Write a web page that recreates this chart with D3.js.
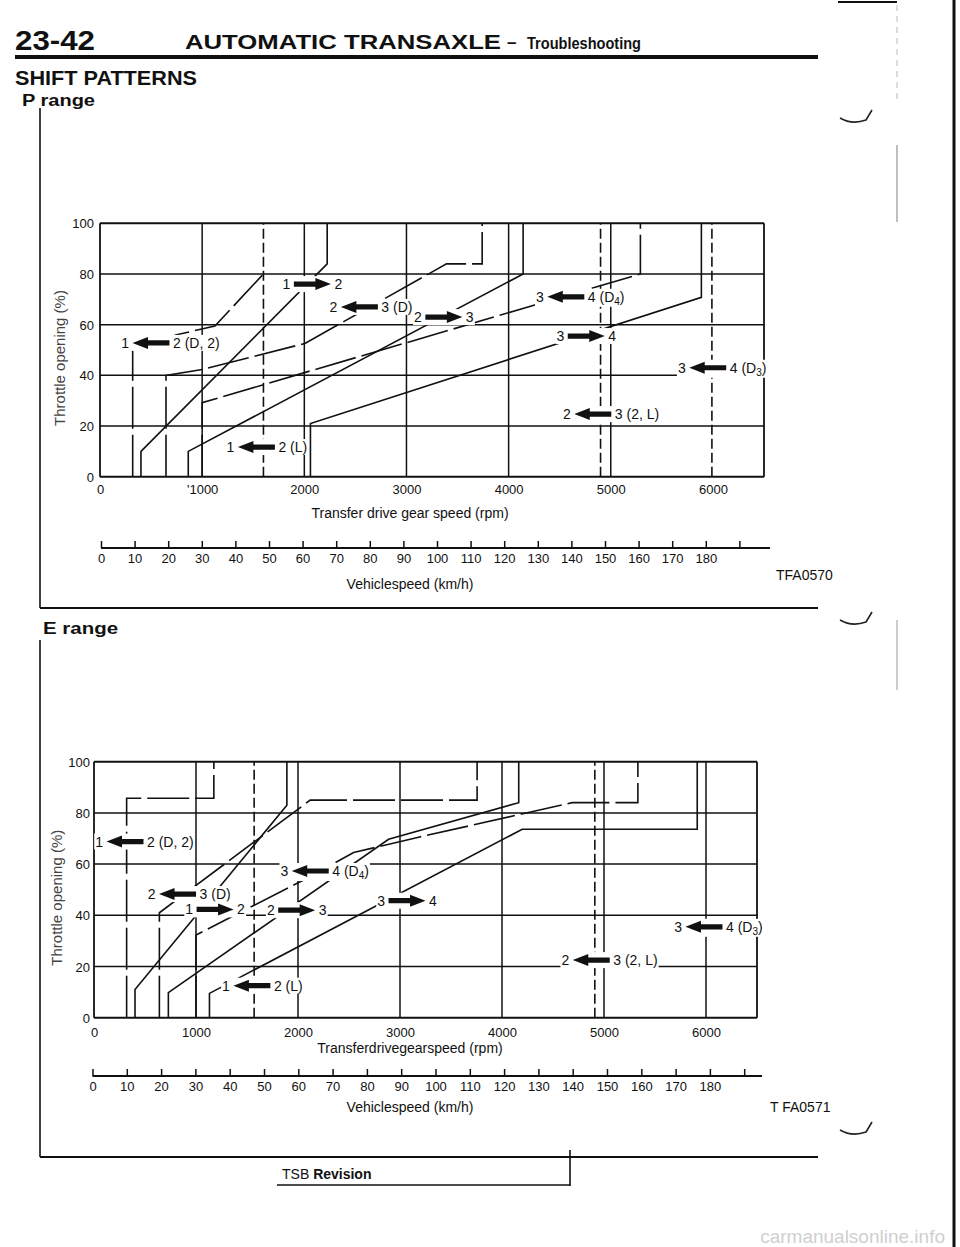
<!DOCTYPE html>
<html><head><meta charset="utf-8">
<script src="https://cdn.jsdelivr.net/npm/d3@7/dist/d3.min.js"></script>
<style>
body{margin:0;background:#fff}
svg{display:block}
text{font-family:"Liberation Sans Narrow","Liberation Sans",Arial,sans-serif;fill:#111}
</style></head><body>
<svg id="page" width="960" height="1247"></svg>
<script>
// ---------------- DATA ----------------
const rpmTicks = [0, 1000, 2000, 3000, 4000, 5000, 6000];
const rpmTickLabelsP = ["0", "'1000", "2000", "3000", "4000", "5000", "6000"];
const rpmTickLabelsE = ["0", "1000", "2000", "3000", "4000", "5000", "6000"];
const throttleTicks = [0, 20, 40, 60, 80, 100];
const throttleTickLabels = ["0", "20", "40", "60", "80", "100"];
const speedTicks = [0, 10, 20, 30, 40, 50, 60, 70, 80, 90, 100, 110, 120, 130, 140, 150, 160, 170, 180, 190];
const speedTickLabels = ["0", "10", "20", "30", "40", "50", "60", "70", "80", "90", "100", "110", "120", "130", "140", "150", "160", "170", "180", ""];
const gridRpmP = [1000, 2000, 3000, 4000, 5000];
const gridRpmE = [1000, 2000, 3000, 4000, 5000, 6000];

// P range shift lines: [transfer drive gear rpm, throttle %]
const pUp12 = [[401, 0], [401, 10], [2224, 84], [2224, 100]];
const pDown12D2 = [[320, 0], [320, 50], [750, 56], [1125, 59.5], [1600, 80]];
const pDown12L = [[1600, 0], [1600, 100]];
const pUp23 = [[864, 0], [864, 10], [4142, 80], [4142, 100]];
const pDown23D = [[646, 0], [646, 40], [1011, 42.4], [2006, 52.6], [3392, 84], [3741, 84], [3741, 100]];
const pDown23L = [[4900, 0], [4900, 100]];
const pUp34 = [[2060, 0], [2060, 21], [5887, 70.8], [5887, 100]];
const pDown34D4 = [[1000, 0], [1000, 29.2], [5290, 80], [5290, 100]];
const pDown34D3 = [[5990, 0], [5990, 100]];

// E range shift lines
const eUp12 = [[402, 0], [402, 11], [1891, 83], [1891, 100]];
const eDown12D2 = [[320, 0], [320, 85.7], [1175, 85.7], [1175, 100]];
const eDown12L = [[1570, 0], [1570, 100]];
const eUp23 = [[729, 0], [729, 9.8], [2888, 69.7], [4164, 84], [4164, 100]];
const eDown23D = [[641, 0], [641, 41], [2120, 85], [3756, 85], [3756, 100]];
const eDown23L = [[4910, 0], [4910, 100]];
const eUp34 = [[1132, 0], [1132, 9.5], [4198, 73.6], [5914, 73.6], [5914, 100]];
const eDown34D4 = [[1000, 0], [1000, 32.3], [2054, 53.8], [2545, 64.5], [3183, 70.5], [4688, 84], [5332, 84], [5332, 100]];

// shift labels: from gear, to gear, direction (1 = upshift, -1 = downshift), position (rpm, %)
const pLabels = [
  {a: "1", b: "2", dir: 1, rpm: 2079, thr: 76},
  {a: "2", b: "3 (D)", dir: -1, rpm: 2539, thr: 67},
  {a: "1", b: "2 (D, 2)", dir: -1, rpm: 499, thr: 52.8},
  {a: "1", b: "2 (L)", dir: -1, rpm: 1531, thr: 11.7},
  {a: "2", b: "3", dir: 1, rpm: 3366, thr: 63},
  {a: "3", b: "4 (D4)", dir: -1, rpm: 4560, thr: 71},
  {a: "3", b: "4", dir: 1, rpm: 4760, thr: 55.5},
  {a: "3", b: "4 (D3)", dir: -1, rpm: 5949, thr: 43},
  {a: "2", b: "3 (2, L)", dir: -1, rpm: 4824, thr: 24.7}
];
const eLabels = [
  {a: "1", b: "2 (D, 2)", dir: -1, rpm: 304, thr: 68.8},
  {a: "2", b: "3 (D)", dir: -1, rpm: 819, thr: 48.3},
  {a: "1", b: "2", dir: 1, rpm: 1187, thr: 42.3},
  {a: "2", b: "3", dir: 1, rpm: 1987, thr: 42},
  {a: "3", b: "4 (D4)", dir: -1, rpm: 2120, thr: 57.3},
  {a: "1", b: "2 (L)", dir: -1, rpm: 1548, thr: 12.5},
  {a: "3", b: "4", dir: 1, rpm: 3069, thr: 45.7},
  {a: "3", b: "4 (D3)", dir: -1, rpm: 5980, thr: 35.5},
  {a: "2", b: "3 (2, L)", dir: -1, rpm: 4875, thr: 22.5}
];

// ---------------- DRAWING ----------------
const svg = d3.select("#page");
svg.append("rect").attr("width", 960).attr("height", 1247).attr("fill", "#fff");

function addText(x, y, s, size, weight, anchor, len) {
  const t = svg.append("text").attr("x", x).attr("y", y).text(s)
    .attr("font-size", size).attr("font-weight", weight || "normal")
    .attr("text-anchor", anchor || "start");
  if (len) t.attr("textLength", len).attr("lengthAdjust", "spacingAndGlyphs");
  return t;
}
function addLine(x1, y1, x2, y2, w, col, dash) {
  const l = svg.append("line").attr("x1", x1).attr("y1", y1).attr("x2", x2).attr("y2", y2)
    .attr("stroke", col || "#111").attr("stroke-width", w || 1.5);
  if (dash) l.attr("stroke-dasharray", dash);
  return l;
}

// page header
addText(15, 50, "23-42", 28, "bold", "start", 80);
addText(185, 49, "AUTOMATIC TRANSAXLE", 21, "bold", "start", 316);
addText(507, 48, "–", 17, "bold");
addText(527, 49, "Troubleshooting", 17, "bold", "start", 114);
svg.append("rect").attr("x", 15).attr("y", 55).attr("width", 803).attr("height", 4).attr("fill", "#111");
addText(15, 85, "SHIFT PATTERNS", 20, "bold", "start", 182);
addText(22, 106, "P range", 16, "bold", "start", 73);
addText(43, 634, "E range", 16, "bold", "start", 75);

// frames and margin marks
addLine(40, 108, 40, 608, 1.6);
addLine(40, 608, 818, 608, 2);
addLine(40, 640, 40, 1157, 1.6);
addLine(40, 1157, 818, 1157, 2);
addLine(838, 2, 897, 2, 2);
addLine(897, 5, 897, 100, 1, "#bbb", "6,5");
addLine(897, 145, 897, 222, 1.5, "#aaa");
addLine(897, 620, 897, 690, 1.5, "#bbb");
addLine(954, 0, 954, 1247, 3);
[118, 620, 1130].forEach(yy => {
  svg.append("path").attr("d", `M840,${yy} Q852,${yy + 7} 866,${yy + 2} L872,${yy - 8}`)
    .attr("fill", "none").attr("stroke", "#222").attr("stroke-width", 1.6);
});
svg.append("text").attr("x", 945).attr("y", 1243).attr("text-anchor", "end")
  .attr("font-size", 19).attr("font-family", "DejaVu Sans, sans-serif").style("fill", "#cfcfcf")
  .text("carmanualsonline.info");

// TSB revision box
addLine(277, 1185, 570, 1185, 1.6);
addLine(570, 1150, 570, 1186, 1.6);
const tsb = svg.append("text").attr("x", 282).attr("y", 1179).attr("font-size", 14);
tsb.append("tspan").text("TSB ");
tsb.append("tspan").attr("font-weight", "bold").text("Revision");

function styleFor(kind) {
  if (kind === "up") return null;
  if (kind === "limit") return "10,4";
  return "42,6";
}

function drawChart(cfg) {
  const g = svg.append("g");
  const x = d3.scaleLinear().domain([0, 6500]).range([cfg.x0, cfg.x1]);
  const y = d3.scaleLinear().domain([0, 100]).range([cfg.y0, cfg.y1]);

  g.selectAll(".hg").data(throttleTicks).join("line")
    .attr("x1", x(0)).attr("x2", x(6500)).attr("y1", d => y(d)).attr("y2", d => y(d))
    .attr("stroke", "#111").attr("stroke-width", d => (d === 100 || d === 0) ? 2 : 1.5);
  g.selectAll(".vg").data(cfg.gridRpm).join("line")
    .attr("x1", d => x(d)).attr("x2", d => x(d)).attr("y1", y(0)).attr("y2", y(100))
    .attr("stroke", "#111").attr("stroke-width", 1.5);
  g.append("line").attr("x1", x(0)).attr("x2", x(0)).attr("y1", y(0)).attr("y2", y(100))
    .attr("stroke", "#111").attr("stroke-width", 1.8);
  g.append("line").attr("x1", x(6500)).attr("x2", x(6500)).attr("y1", y(0)).attr("y2", y(100))
    .attr("stroke", "#111").attr("stroke-width", 1.8);

  const line = d3.line().x(d => x(d[0])).y(d => y(d[1]));
  g.selectAll(".curve").data(cfg.curves).join("path")
    .attr("d", d => line(d.pts)).attr("fill", "none")
    .attr("stroke", "#111").attr("stroke-width", 1.6)
    .attr("stroke-dasharray", d => styleFor(d.kind));

  const lg = g.selectAll(".lab").data(cfg.labels).join("g")
    .attr("transform", d => `translate(${x(d.rpm)},${y(d.thr)})`);
  lg.append("rect").attr("class", "bg");
  lg.append("path")
    .attr("d", "M-18.5,-2.6 L3,-2.6 L3,-6 L18.5,0 L3,6 L3,2.6 L-18.5,2.6 Z")
    .attr("transform", d => d.dir < 0 ? "scale(-1,1)" : null)
    .attr("fill", "#111");
  lg.append("text").attr("x", -22).attr("y", 5).attr("text-anchor", "end")
    .attr("font-size", 14).text(d => d.a);
  lg.each(function (d) {
    const t = d3.select(this).append("text").attr("x", 22).attr("y", 5).attr("font-size", 14);
    const m = d.b.match(/^(.*D)(\d)(\))$/);
    if (m) {
      t.append("tspan").text(m[1]);
      t.append("tspan").attr("font-size", 10).attr("dy", 3).text(m[2]);
      t.append("tspan").attr("dy", -3).text(m[3]);
    } else t.text(d.b);
  });
  lg.each(function () {
    const bb = this.getBBox();
    d3.select(this).select("rect.bg").attr("x", bb.x - 1).attr("y", bb.y).attr("width", bb.width + 2)
      .attr("height", bb.height).attr("fill", "#fff");
  });

  g.selectAll(".yl").data(throttleTicks).join("text")
    .attr("x", cfg.yLabelX).attr("y", d => y(d) + 5).attr("text-anchor", "end")
    .attr("font-size", 13).text((d, i) => throttleTickLabels[i]);
  g.append("text").attr("transform", `translate(${cfg.titleX},${(y(0) + y(100)) / 2 + 8}) rotate(-90)`)
    .attr("text-anchor", "middle").attr("font-size", 15).style("fill", "#444")
    .attr("font-family", "Liberation Sans, Arial, sans-serif")
    .text("Throttle opening (%)");

  const ax = g.append("g").attr("transform", `translate(0,${y(0)})`)
    .call(d3.axisBottom(x).tickValues(rpmTicks).tickFormat((d, i) => cfg.rpmLabels[i]).tickSize(0).tickPadding(cfg.rpmPad));
  ax.select(".domain").remove();
  ax.selectAll("text").attr("font-size", 13).attr("font-family", null).style("fill", "#111");
  g.append("text").attr("x", cfg.rpmTitleX).attr("y", cfg.rpmTitleY).attr("text-anchor", "middle")
    .attr("font-size", 14).text(cfg.rpmTitle);

  const s = d3.scaleLinear().domain([0, 200]).range([cfg.s0, cfg.s1]);
  const sa = g.append("g").attr("transform", `translate(0,${cfg.sY})`)
    .call(d3.axisBottom(s).tickValues(speedTicks).tickFormat((d, i) => speedTickLabels[i]).tickSizeInner(-7).tickSizeOuter(0).tickPadding(6));
  sa.select(".domain").attr("stroke-width", 2.2).attr("stroke", "#111").attr("d", `M${cfg.s0},0H${cfg.sEnd}`);
  sa.selectAll(".tick line").attr("stroke", "#111").attr("stroke-width", 1.5);
  sa.selectAll("text").attr("font-size", 13).attr("font-family", null).style("fill", "#111");
  g.append("text").attr("x", cfg.sTitleX).attr("y", cfg.sTitleY).attr("text-anchor", "middle")
    .attr("font-size", 14).text("Vehiclespeed (km/h)");
  g.append("text").attr("x", cfg.codeX).attr("y", cfg.codeY).attr("font-size", 14).text(cfg.code);
}

drawChart({
  x0: 100, x1: 764, y0: 476.7, y1: 223.3, gridRpm: gridRpmP,
  curves: [
    {pts: pUp12, kind: "up"}, {pts: pDown12D2, kind: "down"}, {pts: pDown12L, kind: "limit"},
    {pts: pUp23, kind: "up"}, {pts: pDown23D, kind: "down"}, {pts: pDown23L, kind: "limit"},
    {pts: pUp34, kind: "up"}, {pts: pDown34D4, kind: "down"}, {pts: pDown34D3, kind: "limit"}
  ],
  labels: pLabels, yLabelX: 94, titleX: 65, rpmLabels: rpmTickLabelsP, rpmPad: 8,
  rpmTitle: "Transfer drive gear speed (rpm)", rpmTitleX: 410, rpmTitleY: 518,
  s0: 101, s1: 773, sEnd: 770, sY: 548, sTitleX: 410, sTitleY: 589,
  code: "TFA0570", codeX: 776, codeY: 580
});
drawChart({
  x0: 94, x1: 757, y0: 1017.7, y1: 761.7, gridRpm: gridRpmE,
  curves: [
    {pts: eUp12, kind: "up"}, {pts: eDown12D2, kind: "down"}, {pts: eDown12L, kind: "limit"},
    {pts: eUp23, kind: "up"}, {pts: eDown23D, kind: "down"}, {pts: eDown23L, kind: "limit"},
    {pts: eUp34, kind: "up"}, {pts: eDown34D4, kind: "down"}
  ],
  labels: eLabels, yLabelX: 90, titleX: 62, rpmLabels: rpmTickLabelsE, rpmPad: 10,
  rpmTitle: "Transferdrivegearspeed (rpm)", rpmTitleX: 410, rpmTitleY: 1053,
  s0: 92.5, s1: 778.5, sEnd: 762, sY: 1076, sTitleX: 410, sTitleY: 1112,
  code: "T FA0571", codeX: 770, codeY: 1112
});
</script>
</body></html>
